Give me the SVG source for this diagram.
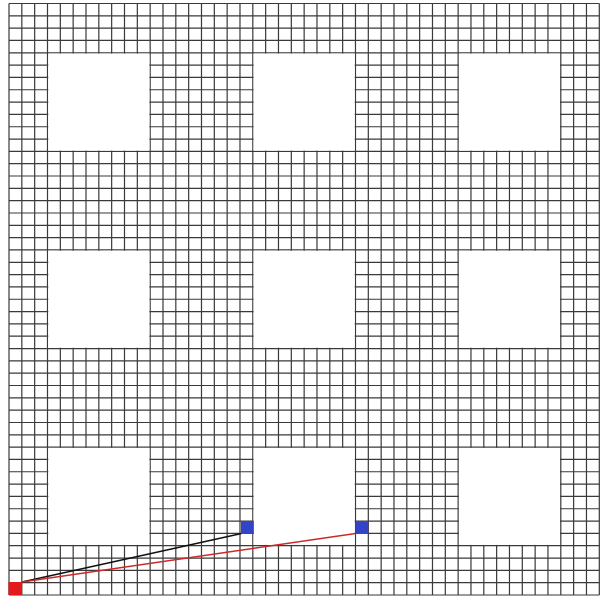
<svg xmlns="http://www.w3.org/2000/svg" width="605" height="599" viewBox="0 0 605 599">
<style>
.grid{stroke:#3a3a3a;stroke-width:1.2;fill:none;}
.hole{fill:#ffffff;stroke:none;}
.red{fill:#e3191c;}
.blue{fill:#3443c8;}
.edge{fill:none;stroke-width:1.4;}
</style>
<rect width="605" height="599" fill="#ffffff"/>
<g id="grid">
<path class="grid" d="M9 3.5V595M21.83 3.5V595M34.67 3.5V595M47.5 3.5V595M60.33 3.5V595M73.16 3.5V595M86 3.5V595M98.83 3.5V595M111.66 3.5V595M124.49 3.5V595M137.33 3.5V595M150.16 3.5V595M162.99 3.5V595M175.82 3.5V595M188.66 3.5V595M201.49 3.5V595M214.32 3.5V595M227.15 3.5V595M239.99 3.5V595M252.82 3.5V595M265.65 3.5V595M278.48 3.5V595M291.32 3.5V595M304.15 3.5V595M316.98 3.5V595M329.82 3.5V595M342.65 3.5V595M355.48 3.5V595M368.31 3.5V595M381.15 3.5V595M393.98 3.5V595M406.81 3.5V595M419.64 3.5V595M432.48 3.5V595M445.31 3.5V595M458.14 3.5V595M470.97 3.5V595M483.81 3.5V595M496.64 3.5V595M509.47 3.5V595M522.3 3.5V595M535.14 3.5V595M547.97 3.5V595M560.8 3.5V595M573.63 3.5V595M586.47 3.5V595M599.3 3.5V595"/>
<path class="grid" d="M9 3.5H599.3M9 15.82H599.3M9 28.15H599.3M9 40.47H599.3M9 52.79H599.3M9 65.11H599.3M9 77.44H599.3M9 89.76H599.3M9 102.08H599.3M9 114.41H599.3M9 126.73H599.3M9 139.05H599.3M9 151.37H599.3M9 163.7H599.3M9 176.02H599.3M9 188.34H599.3M9 200.67H599.3M9 212.99H599.3M9 225.31H599.3M9 237.64H599.3M9 249.96H599.3M9 262.28H599.3M9 274.6H599.3M9 286.93H599.3M9 299.25H599.3M9 311.57H599.3M9 323.9H599.3M9 336.22H599.3M9 348.54H599.3M9 360.86H599.3M9 373.19H599.3M9 385.51H599.3M9 397.83H599.3M9 410.16H599.3M9 422.48H599.3M9 434.8H599.3M9 447.12H599.3M9 459.45H599.3M9 471.77H599.3M9 484.09H599.3M9 496.42H599.3M9 508.74H599.3M9 521.06H599.3M9 533.38H599.3M9 545.71H599.3M9 558.03H599.3M9 570.35H599.3M9 582.67H599.3M9 595H599.3"/>
</g>
<g id="holes">
<rect class="hole" x="48.3" y="53.6" width="101.06" height="96.98"/>
<rect class="hole" x="253.62" y="53.6" width="101.06" height="96.98"/>
<rect class="hole" x="458.94" y="53.6" width="101.06" height="96.98"/>
<rect class="hole" x="48.3" y="250.76" width="101.06" height="96.98"/>
<rect class="hole" x="253.62" y="250.76" width="101.06" height="96.98"/>
<rect class="hole" x="458.94" y="250.76" width="101.06" height="96.98"/>
<rect class="hole" x="48.3" y="447.92" width="101.06" height="96.98"/>
<rect class="hole" x="253.62" y="447.92" width="101.06" height="96.98"/>
<rect class="hole" x="458.94" y="447.92" width="101.06" height="96.98"/>
</g>
<g id="connectors">
<line class="edge" x1="22" y1="582" x2="241.5" y2="533.5" stroke="#111111"/>
<line class="edge" x1="22" y1="582" x2="355.5" y2="533.5" stroke="#cc2a2a"/>
</g>
<g id="node-red"><rect class="red" x="8.5" y="582" width="13.5" height="13"/></g>
<g id="node-blue-1"><rect class="blue" x="241" y="521" width="12.8" height="13"/></g>
<g id="node-blue-2"><rect class="blue" x="355.5" y="521" width="12.8" height="13"/></g>
</svg>
